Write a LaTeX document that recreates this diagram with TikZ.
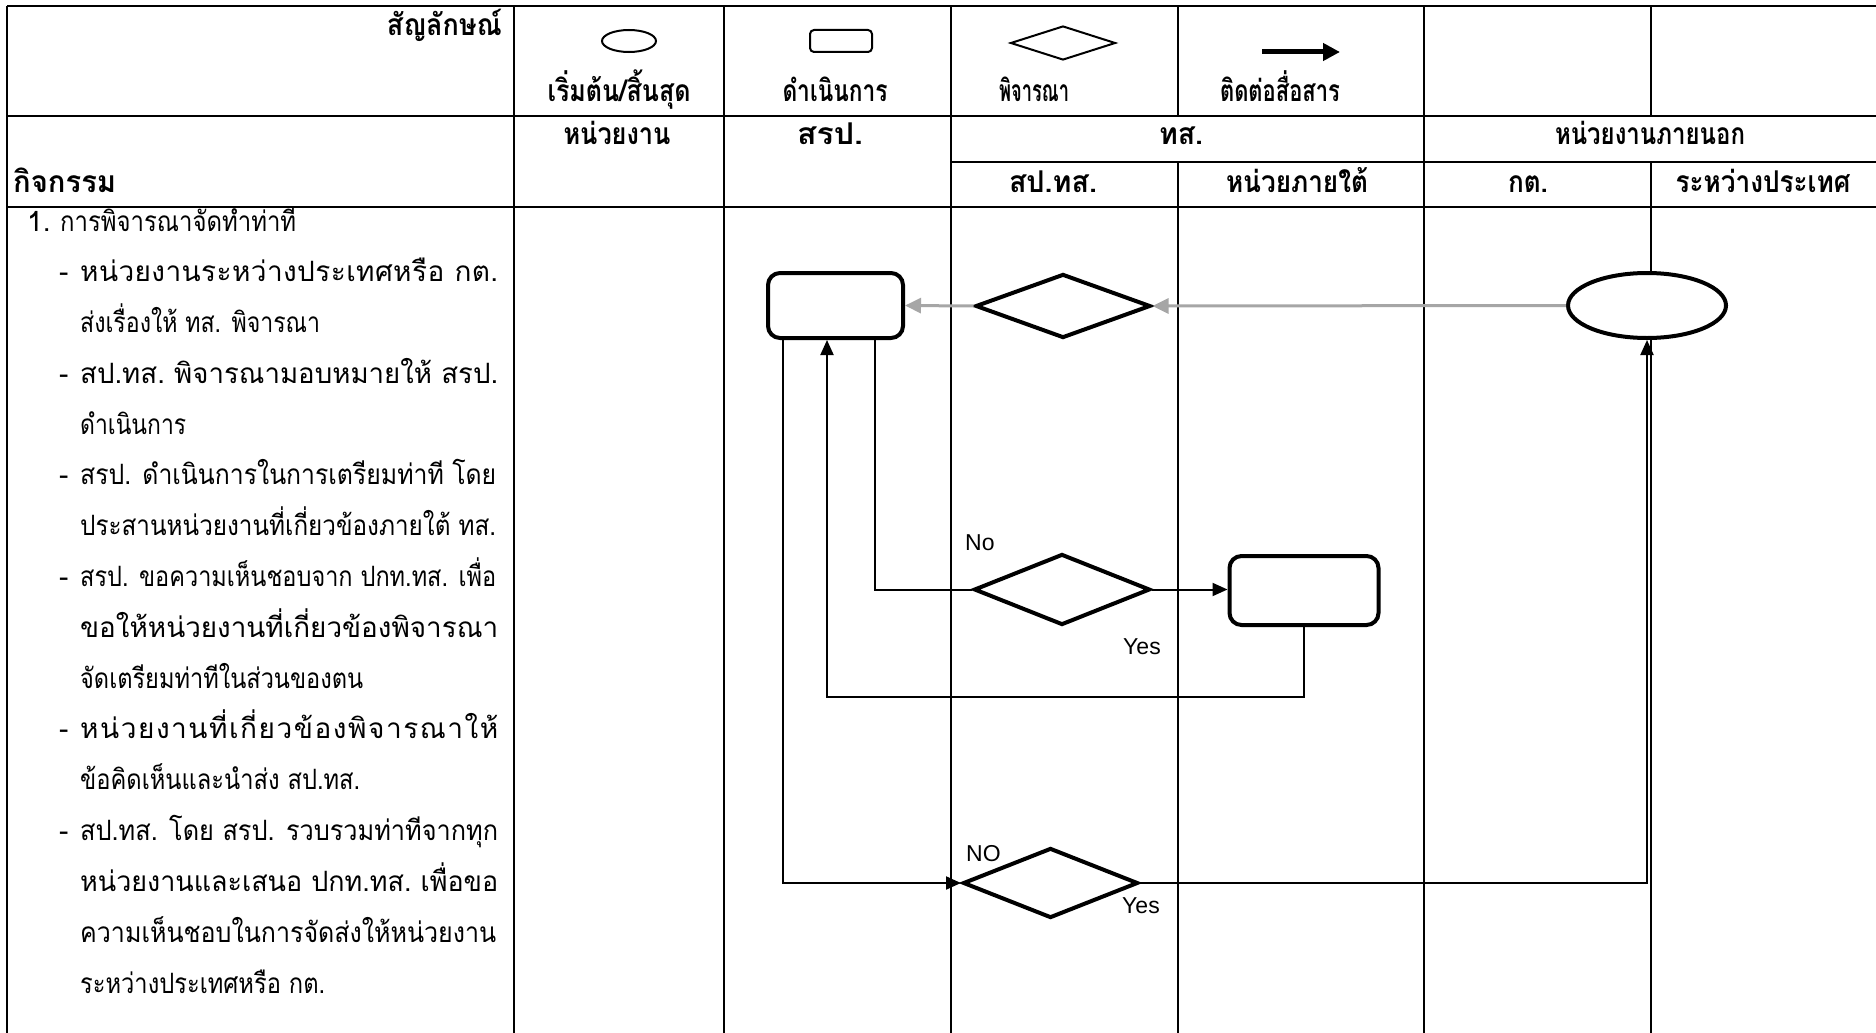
\documentclass[tikz,border=0pt]{standalone}
\usepackage{fontspec}
\usepackage{graphicx}
\usetikzlibrary{shapes.geometric,arrows.meta}
\newfontfamily\thai[Script=Thai]{Loma}
\newfontfamily\lat{Liberation Sans}
\definecolor{grayc}{RGB}{166,166,166}
\pgfdeclarelayer{bg}
\pgfsetlayers{bg,main}
\newif\ifspreading
\newcommand{\gpx}{\ifspreading\hfill\fi}
\newlength\natw
\newcommand{\spreadto}[2]{\spreadingfalse\settowidth\natw{#2}%
  \ifdim\natw<#1pt\relax\makebox[#1pt][l]{\spreadingtrue#2}\else\resizebox{#1pt}{\height}{#2}\fi}
\newcommand{\bline}[4]{\node[body] (#1) at (80,#2) {\resizebox{#3pt}{\height}{#4}};}
\newcommand{\sline}[4]{\node[body] (#1) at (80,#2) {\spreadto{#3}{#4}};}
\newcommand{\hw}[2]{\resizebox{#1pt}{\height}{#2}}
\begin{document}
\begin{tikzpicture}[x=1pt,y=-1pt,
  tline/.style={line width=1.3pt},
  proc/.style={draw,line width=4pt,rounded corners=12pt,inner sep=0pt,fill=white},
  dec/.style={draw,diamond,line width=4pt,inner sep=0pt,fill=white},
  term/.style={draw,ellipse,line width=4pt,inner sep=0pt,fill=white},
  conn/.style={line width=2pt,-{Triangle[length=15pt,width=13pt]}},
  plainc/.style={line width=2pt},
  gconn/.style={line width=3pt,draw=grayc,-{Triangle[length=16pt,width=15pt,fill=grayc]}},
  body/.style={anchor=base west,inner sep=0pt,font=\thai\fontsize{28}{30}\selectfont},
  hd/.style={anchor=base,inner sep=0pt,font=\thai\bfseries\fontsize{30}{32}\selectfont},
  lbl/.style={anchor=base west,inner sep=0pt,font=\lat\fontsize{23}{25}\selectfont},
  lgshape/.style={draw,line width=2pt,inner sep=0pt,fill=white}]
\useasboundingbox (0,0) rectangle (1876,1033);

% ---------- table ----------
\begin{pgfonlayer}{bg}
\fill[white] (0,0) rectangle (1876,1033);
\draw[tline] (7,6) -- (1876,6);
\draw[tline] (7,116) -- (1876,116);
\draw[tline] (951,162) -- (1876,162);
\draw[tline] (7,207) -- (1876,207);
\draw[tline] (7,6) -- (7,1033);
\foreach \x in {514,724,951,1424} \draw[tline] (\x,6) -- (\x,1033);
\foreach \x in {1178,1651} {\draw[tline] (\x,6) -- (\x,116); \draw[tline] (\x,162) -- (\x,1033);}
\end{pgfonlayer}

% ---------- header texts ----------
\node[hd,anchor=base east] (hsym) at (502,36) {\hw{115}{สัญลักษณ์}};
\node[lgshape,ellipse,minimum width=54pt,minimum height=22pt] (lgE) at (629,41) {};
\node[lgshape,rounded corners=4pt,minimum width=62pt,minimum height=22pt] (lgR) at (841,41) {};
\node[lgshape,diamond,minimum width=105pt,minimum height=34pt] (lgD) at (1063,43) {};
\coordinate (la1) at (1262,52);
\coordinate (la2) at (1340,52);
\draw[line width=5pt,-{Triangle[length=17pt,width=17pt]}] (la1) -- (la2);
\node[hd] (h1) at (619,101) {\hw{143}{เริ่มต้น/สิ้นสุด}};
\node[hd] (h2) at (835,101) {\hw{105}{ดำเนินการ}};
\node[hd] (h3) at (1034,101) {\hw{70}{พิจารณา}};
\node[hd] (h4) at (1280,101) {\hw{120}{ติดต่อสื่อสาร}};
\node[hd] (h5) at (617,144) {\hw{107}{หน่วยงาน}};
\node[hd] (h6) at (830,144) {\hw{66}{สรป.}};
\node[hd] (h7) at (1181,144) {\hw{44}{ทส.}};
\node[hd] (h8) at (1650,144) {\hw{190}{หน่วยงานภายนอก}};
\node[hd,anchor=base west] (h9) at (13,192) {\hw{103}{กิจกรรม}};
\node[hd] (h10) at (1053,192) {\hw{88}{สป.ทส.}};
\node[hd] (h11) at (1297,192) {\hw{142}{หน่วยภายใต้}};
\node[hd] (h12) at (1528,192) {\hw{40}{กต.}};
\node[hd] (h13) at (1763,192) {\hw{175}{ระหว่างประเทศ}};

% ---------- activity text ----------
\node[body] (n1) at (27,231) {1.};
\node[body] (t1) at (60,231) {\resizebox{236pt}{\height}{การพิจารณาจัดทำท่าที}};
\node[body] (d2) at (59,281.8) {-};
\sline{t2}{281.8}{418}{ห\gpx น่\gpx ว\gpx ย\gpx ง\gpx า\gpx น\gpx ร\gpx ะ\gpx ห\gpx ว่\gpx า\gpx ง\gpx ป\gpx ร\gpx ะ\gpx เ\gpx ท\gpx ศ\gpx ห\gpx รื\gpx อ\gpx\ \gpx ก\gpx ต\gpx .}
\bline{t3}{332.5}{240}{ส่งเรื่องให้ ทส. พิจารณา}
\node[body] (d4) at (59,383.3) {-};
\sline{t4}{383.3}{418}{ส\gpx ป\gpx .\gpx ท\gpx ส\gpx .\gpx\ \gpx พิ\gpx จ\gpx า\gpx ร\gpx ณ\gpx า\gpx ม\gpx อ\gpx บ\gpx ห\gpx ม\gpx า\gpx ย\gpx ใ\gpx ห้\gpx\ \gpx ส\gpx ร\gpx ป\gpx .}
\bline{t5}{434.1}{106}{ดำเนินการ}
\node[body] (d6) at (59,484.9) {-};
\bline{t6}{484.9}{416}{สรป. ดำเนินการในการเตรียมท่าที โดย}
\bline{t7}{535.7}{416}{ประสานหน่วยงานที่เกี่ยวข้องภายใต้ ทส.}
\node[body] (d8) at (59,586.5) {-};
\bline{t8}{586.5}{416}{สรป. ขอความเห็นชอบจาก ปกท.ทส. เพื่อ}
\sline{t9}{637.3}{418}{ข\gpx อ\gpx ใ\gpx ห้\gpx ห\gpx น่\gpx ว\gpx ย\gpx ง\gpx า\gpx น\gpx ที่\gpx เ\gpx กี่\gpx ย\gpx ว\gpx ข้\gpx อ\gpx ง\gpx พิ\gpx จ\gpx า\gpx ร\gpx ณ\gpx า}
\bline{t10}{688.1}{283}{จัดเตรียมท่าทีในส่วนของตน}
\node[body] (d11) at (59,738.9) {-};
\sline{t11}{738.9}{418}{ห\gpx น่\gpx ว\gpx ย\gpx ง\gpx า\gpx น\gpx ที่\gpx เ\gpx กี่\gpx ย\gpx ว\gpx ข้\gpx อ\gpx ง\gpx พิ\gpx จ\gpx า\gpx ร\gpx ณ\gpx า\gpx ใ\gpx ห้}
\bline{t12}{789.7}{280}{ข้อคิดเห็นและนำส่ง สป.ทส.}
\node[body] (d13) at (59,840.5) {-};
\bline{t13}{840.5}{418}{สป.ทส. โดย สรป. รวบรวมท่าทีจากทุก}
\sline{t14}{891.3}{418}{หน่วยงานและเสนอ\ \gpx ป\gpx ก\gpx ท\gpx .\gpx ท\gpx ส\gpx .\gpx\ \gpx เพื่อขอ}
\bline{t15}{942.1}{416}{ความเห็นชอบในการจัดส่งให้หน่วยงาน}
\bline{t16}{993}{245}{ระหว่างประเทศหรือ กต.}

% ---------- flow nodes ----------
\node[proc,minimum width=135pt,minimum height=65pt] (A) at (835.5,305.5) {};
\node[dec,minimum width=175pt,minimum height=64pt] (D1) at (1063,306) {};
\node[term,minimum width=158pt,minimum height=65pt] (E) at (1647,305.5) {};
\node[dec,minimum width=176pt,minimum height=71pt] (D2) at (1062,589.5) {};
\node[proc,minimum width=149pt,minimum height=69pt] (B) at (1304,590.5) {};
\node[dec,minimum width=175pt,minimum height=70pt] (D3) at (1050.5,883) {};

\coordinate (xa) at (783,0);
\coordinate (xb) at (875,0);
\coordinate (lp) at (827,697);

% ---------- connectors ----------
\draw[gconn] (E.west) -- (D1.east);
\draw[gconn] (D1.west) -- (A.east);
\draw[plainc] (A.south -| xb) |- (D2.west);
\draw[conn] (D2.east) -- (D2.east -| B.west);
\draw[conn] (B.south) |- (lp) -- (lp |- A.south);
\draw[conn] (A.south -| xa) |- (D3.west);
\draw[conn] (D3.east) -| (E.south);

% ---------- labels ----------
\node[lbl] (lNo) at (965,550) {No};
\node[lbl] (lYes1) at (1123,654) {Yes};
\node[lbl] (lNO) at (966,861) {NO};
\node[lbl] (lYes2) at (1122,913) {Yes};
\end{tikzpicture}
\end{document}
